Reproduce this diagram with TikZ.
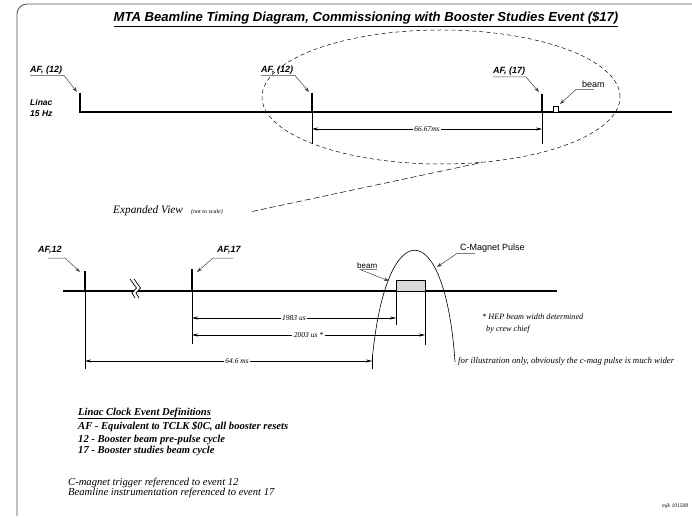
\documentclass[tikz,border=0pt]{standalone}
\usepackage{fontspec}
\setmainfont{Liberation Serif}
\setsansfont{Liberation Sans}
\usetikzlibrary{arrows.meta,shapes.geometric}
\begin{document}
\begin{tikzpicture}[x=1pt,y=-1pt,
  tl/.style={line width=1.8pt},
  tk/.style={line width=1.4pt},
  thinl/.style={line width=0.6pt},
  lbl/.style={font=\sffamily\bfseries\itshape\fontsize{9}{10}\selectfont, inner sep=0pt, anchor=base west},
  lblr/.style={font=\sffamily\fontsize{9}{10}\selectfont, inner sep=0pt, anchor=base west},
  ptr/.style={draw=black!75, line width=0.5pt, -{Stealth[length=5pt,width=3.5pt]}},
  dim/.style={line width=0.6pt, {Stealth[length=6pt,width=3pt]}-{Stealth[length=6pt,width=3pt]}},
  dlab/.style={font=\itshape\fontsize{7.5}{8}\selectfont, fill=white, inner sep=1.5pt},
  note/.style={font=\itshape\fontsize{8.2}{9}\selectfont, inner sep=0pt, anchor=base west},
  defs/.style={font=\bfseries\itshape\fontsize{10.6}{12}\selectfont, inner sep=0pt, anchor=base west},
  refs/.style={font=\itshape\fontsize{10.6}{12}\selectfont, inner sep=0pt, anchor=base west}]
\useasboundingbox (0,0) rectangle (692,518);
% frame
\draw[line width=0.8pt, black!70, rounded corners=10pt] (17,516) -- (17,4) -- (692,4);
% title
\node[font=\sffamily\bfseries\itshape\fontsize{13.1}{15}\selectfont, anchor=base, inner sep=0pt] (title) at (366,22) {\underline{MTA Beamline Timing Diagram, Commissioning with Booster Studies Event (\$17)}};

% ---------- top timeline ----------
\coordinate (t0) at (80,93);
\coordinate (t0b) at (80,112);
\coordinate (tend) at (672,112);
\draw[tl, line join=miter] (t0) -- (t0b) -- (tend);
\coordinate (t1a) at (312,93); \coordinate (t1b) at (312,112); \coordinate (t1c) at (312,144);
\coordinate (t2a) at (542,94); \coordinate (t2b) at (542,112); \coordinate (t2c) at (542,144);
\draw[tk] (t1a) -- (t1b);
\draw[thinl] (t1b) -- (t1c);
\draw[tk] (t2a) -- (t2b);
\draw[thinl] (t2b) -- (t2c);
\draw[thinl, fill=white] (553,106.5) rectangle (558.5,112);
\coordinate (d1l) at (312,129); \coordinate (d1r) at (542,129);
\draw[dim] (d1l) -- node[dlab] (d1lab) {66.67ms} (d1r);

\node[lbl] (af12a) at (30,73) {AF, (12)};
\draw[ptr] (30,75.5) -- (64,75.5) -- (77,92);
\node[lbl] (af12b) at (261,73) {AF, (12)};
\draw[ptr] (261,75.5) -- (295,75.5) -- (309,92);
\node[lbl] (af17a) at (493,74) {AF, (17)};
\draw[ptr] (493,77) -- (526,77) -- (539,92);
\node[lblr] (beamt) at (582,88) {beam};
\draw[ptr] (594,89.5) -- (576,89.5) -- (560,104);

\node[lbl, font=\sffamily\bfseries\itshape\fontsize{8.5}{10}\selectfont] (linac) at (30,106) {Linac};
\node[lbl, font=\sffamily\bfseries\itshape\fontsize{8.5}{10}\selectfont] (hz) at (30,117) {15 Hz};

% ellipse and expanded view
\node[draw, ellipse, minimum width=358pt, minimum height=134pt, line width=0.5pt, dash pattern=on 4pt off 3pt, inner sep=0pt] (ell) at (441,97) {};
\node[font=\itshape\fontsize{11.3}{12}\selectfont, anchor=base west, inner sep=0pt] (exp) at (113,214) {Expanded View};
\node[font=\itshape\fontsize{6}{7}\selectfont, anchor=base west, inner sep=0pt] (nts) at (191,214) {(not to scale)};
\coordinate (expend) at (252,211.5);
\draw[line width=0.5pt, dash pattern=on 6pt off 3pt] (expend) -- (ell.-58);

% ---------- bottom timeline ----------
\coordinate (b0) at (63,291); \coordinate (bend) at (557,291);
\draw[tl] (b0) -- (bend);
\coordinate (b1a) at (85,271); \coordinate (b1b) at (85,291); \coordinate (b1c) at (85,369);
\coordinate (b2a) at (192,269); \coordinate (b2b) at (192,291); \coordinate (b2c) at (192,344);
\draw[tk] (b1a) -- (b1b);
\draw[thinl] (b1b) -- (b1c);
\draw[tk] (b2a) -- (b2b);
\draw[thinl] (b2b) -- (b2c);
% break mark
\fill[white] (130,279) -- (136.5,288) -- (132,293) -- (135,298) -- (139,298) -- (136,293) -- (140.5,288) -- (134,279) -- cycle;
\draw[line width=0.7pt] (130,279) -- (136.5,288) -- (132,293) -- (135,298);
\draw[line width=0.7pt] (134,279) -- (140.5,288) -- (136,293) -- (139,298);

% beam box
\draw[thinl, fill=black!15] (396,280) rectangle (425,291);
\coordinate (bm1) at (396,291); \coordinate (bm1e) at (396,325);
\coordinate (bm2) at (425,291); \coordinate (bm2e) at (425,345);
\draw[thinl] (bm1) -- (bm1e);
\draw[thinl] (bm2) -- (bm2e);
% c-magnet pulse
\draw[line width=0.6pt] (372,362) .. controls (385,213) and (445,213) .. (455,362);
\coordinate (cm1) at (372,355); \coordinate (cm2) at (372,369);
\draw[thinl] (cm1) -- (cm2);

% dimensions
\coordinate (d2l) at (192,318); \coordinate (d2r) at (396,318);
\draw[dim] (d2l) -- node[dlab] {1983 us} (d2r);
\coordinate (d3l) at (192,335); \coordinate (d3r) at (425,335);
\draw[dim] (d3l) -- node[dlab] {2003 us *} (d3r);
\coordinate (d4l) at (85,361); \coordinate (d4r) at (372,361);
\draw[dim] (d4l) -- node[dlab, pos=0.53] {64.6 ms} (d4r);

% labels
\node[lbl] (af12c) at (38,252) {AF,12};
\draw[ptr] (48,258) -- (65,258) -- (80,272);
\node[lbl] (af17c) at (217,252) {AF,17};
\draw[ptr] (233,258) -- (213,258) -- (197,272);
\node[lblr, font=\sffamily\fontsize{8}{9}\selectfont] (beamb) at (357,268) {beam};
\draw[ptr] (377,269.5) -- (360,269.5) -- (389,281);
\node[lblr] (cmag) at (460,251) {C-Magnet Pulse};
\draw[ptr] (475,253.5) -- (457,253.5) -- (437,267);

\node[note] (hep1) at (482,319) {* HEP beam width determined};
\node[note] (hep2) at (486,331) {by crew chief};
\node[note, font=\itshape\fontsize{8.8}{9}\selectfont] (illu) at (458,363) {for illustration only, obviously the c-mag pulse is much wider};

% definitions
\node[defs] (def0) at (78,415) {\underline{Linac Clock Event Definitions}};
\node[defs] (def1) at (78,429) {AF - Equivalent to TCLK \$0C, all booster resets};
\node[defs] (def2) at (78,442) {12 - Booster beam pre-pulse cycle};
\node[defs] (def3) at (78,453.5) {17 - Booster studies beam cycle};
\node[refs] (ref1) at (68,485) {C-magnet trigger referenced to event 12};
\node[refs] (ref2) at (68,495) {Beamline instrumentation referenced to event 17};
\node[font=\itshape\fontsize{5.5}{6}\selectfont, anchor=base west, inner sep=0pt] (mjk) at (662,507) {mjk 101508};
\end{tikzpicture}
\end{document}
